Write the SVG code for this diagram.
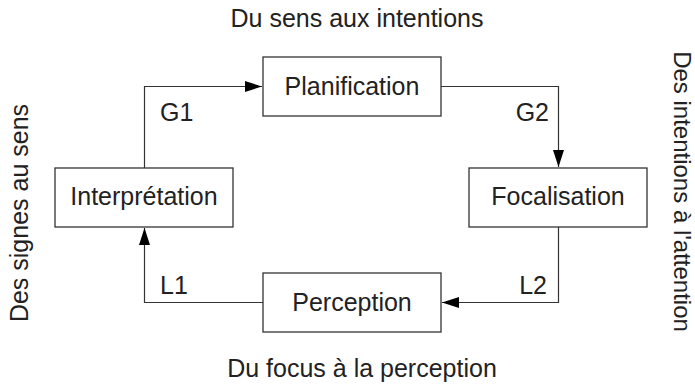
<svg xmlns="http://www.w3.org/2000/svg" width="695" height="384" viewBox="0 0 695 384">
<defs>
<style>
.box{fill:#fff;stroke:#333;stroke-width:1.3}
.lbl{font-family:"Liberation Sans",Arial,sans-serif;font-size:25px;fill:#222}
.c{text-anchor:middle}
.e{text-anchor:end}
.conn{fill:none;stroke:#333;stroke-width:1.2}
</style>
<marker id="arr" markerUnits="userSpaceOnUse" markerWidth="18" markerHeight="12" refX="17" refY="6" orient="auto">
<path d="M0,0.5 L17,6 L0,11.5 Z" fill="#000"/>
</marker>
</defs>
<rect width="695" height="384" fill="#fff"/>
<g id="titles">
<text class="lbl c" x="357" y="27">Du sens aux intentions</text>
<text class="lbl c" x="362" y="377">Du focus à la perception</text>
<text class="lbl c" transform="translate(28,213) rotate(-90)">Des signes au sens</text>
<text class="lbl c" style="font-size:24px" transform="translate(674,191.5) rotate(90)">Des intentions à l'attention</text>
</g>
<g id="connectors">
<path class="conn" d="M144.5,168 V86.5 H262" marker-end="url(#arr)"/>
<path class="conn" d="M441,86.5 H558.5 V167" marker-end="url(#arr)"/>
<path class="conn" d="M558.5,227 V302.5 H442" marker-end="url(#arr)"/>
<path class="conn" d="M263,302.5 H144.5 V228" marker-end="url(#arr)"/>
<text class="lbl" x="160" y="121">G1</text>
<text class="lbl e" x="549" y="121">G2</text>
<text class="lbl" x="160" y="294">L1</text>
<text class="lbl e" x="547" y="294">L2</text>
</g>
<g id="planification">
<rect class="box" x="263" y="57" width="178" height="59"/>
<text class="lbl c" x="352" y="95">Planification</text>
</g>
<g id="interpretation">
<rect class="box" x="55" y="168" width="178" height="59"/>
<text class="lbl c" x="144" y="205">Interprétation</text>
</g>
<g id="focalisation">
<rect class="box" x="469" y="168" width="178" height="59"/>
<text class="lbl c" x="558" y="205">Focalisation</text>
</g>
<g id="perception">
<rect class="box" x="263" y="273" width="178" height="59"/>
<text class="lbl c" x="352" y="311">Perception</text>
</g>
</svg>
